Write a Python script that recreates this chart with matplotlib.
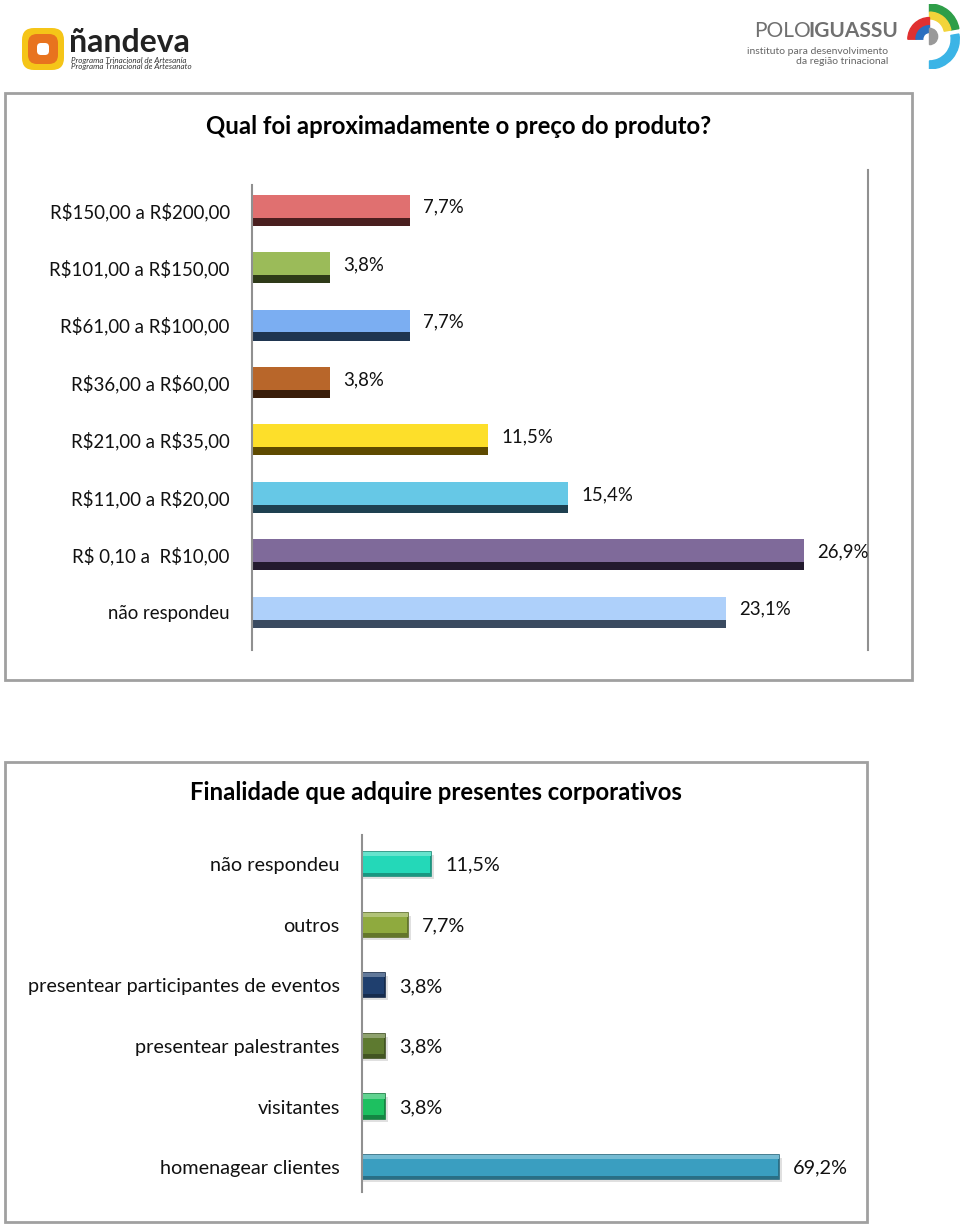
import matplotlib
matplotlib.use("Agg")
import matplotlib.pyplot as plt
from matplotlib.patches import Rectangle, FancyBboxPatch, Wedge
import numpy as np

plt.rcParams['font.family'] = ['Lato', 'DejaVu Sans']
plt.rcParams['text.parse_math'] = False

# ---------------- data ----------------
title1 = "Qual foi aproximadamente o preço do produto?"
cats1 = ["R$150,00 a R$200,00", "R$101,00 a R$150,00", "R$61,00 a R$100,00",
         "R$36,00 a R$60,00", "R$21,00 a R$35,00", "R$11,00 a R$20,00",
         "R$ 0,10 a  R$10,00", "não respondeu"]
vals1 = [7.7, 3.8, 7.7, 3.8, 11.5, 15.4, 26.9, 23.1]
labels1 = ["7,7%", "3,8%", "7,7%", "3,8%", "11,5%", "15,4%", "26,9%", "23,1%"]
light1 = ["#E07070", "#9BBB59", "#7BAEF2", "#B8662A", "#FDDF2A", "#66C8E6", "#7F6A9A", "#AED0FA"]
dark1 = ["#4A1F1F", "#2E3A18", "#1F3550", "#3A1E0A", "#5E4A00", "#1E4050", "#231A2E", "#3A4A60"]

title2 = "Finalidade que adquire presentes corporativos"
cats2 = ["não respondeu", "outros", "presentear participantes de eventos",
         "presentear palestrantes", "visitantes", "homenagear clientes"]
vals2 = [11.5, 7.7, 3.8, 3.8, 3.8, 69.2]
labels2 = ["11,5%", "7,7%", "3,8%", "3,8%", "3,8%", "69,2%"]
colors2 = ["#24D8B8", "#8FAA3E", "#1F3F6E", "#5E7A30", "#1DC060", "#3A9EC0"]

W, H = 960, 1227
FS1 = 13.4
FS2 = 14.3
fig = plt.figure(figsize=(W / 100, H / 100), dpi=100)


def px(x0, y0, x1, y1):
    return [x0 / W, 1 - y1 / H, (x1 - x0) / W, (y1 - y0) / H]


def shade(c, f):
    c = np.array(matplotlib.colors.to_rgb(c))
    if f >= 0:
        c = c + (1 - c) * f
    else:
        c = c * (1 + f)
    return tuple(np.clip(c, 0, 1))


# ---------------- frames ----------------
bg = fig.add_axes([0, 0, 1, 1])
bg.set_xlim(0, W)
bg.set_ylim(H, 0)
bg.axis('off')
bg.add_patch(Rectangle((5, 93), 907, 587, fill=False, ec="#A0A0A0", lw=2))
bg.add_patch(Rectangle((5, 762), 862, 460, fill=False, ec="#A0A0A0", lw=2))

# ---------------- logos ----------------
bg.add_patch(FancyBboxPatch((22, 28), 42, 42, boxstyle="round,pad=0,rounding_size=12",
                            fc="#F5C518", ec="none"))
bg.add_patch(FancyBboxPatch((28, 34), 30, 30, boxstyle="round,pad=0,rounding_size=9",
                            fc="#E8731E", ec="none"))
bg.add_patch(FancyBboxPatch((37, 43), 12, 12, boxstyle="round,pad=0,rounding_size=4",
                            fc="white", ec="none"))
bg.text(69, 43, "ñandeva", fontsize=23, fontweight='bold', color="#222222",
        va='center', ha='left')
bg.text(71, 60, "Programa Trinacional de Artesanía", fontsize=5.8, style='italic',
        color="#333333", va='center', ha='left')
bg.text(71, 67, "Programa Trinacional de Artesanato", fontsize=5.8, style='italic',
        color="#333333", va='center', ha='left')

bg.text(754, 31, "POLO", fontsize=15, color="#707070", va='center', ha='left')
bg.text(808, 31, "IGUASSU", fontsize=15, fontweight='bold', color="#707070", va='center', ha='left')
bg.text(888, 51, "instituto para desenvolvimento", fontsize=7.5, color="#666666",
        va='center', ha='right')
bg.text(888, 62, "da região trinacional", fontsize=7.5, color="#666666",
        va='center', ha='right')
lg = fig.add_axes(px(897, 3, 962, 70))
lg.set_xlim(-1.2, 1.2)
lg.set_ylim(-1.2, 1.2)
lg.set_aspect('equal')
lg.axis('off')
lg.add_patch(Wedge((0, 0.1), 1.1, 10, 90, width=0.3, color="#2E9E48"))
lg.add_patch(Wedge((0, 0.1), 0.8, 10, 90, width=0.25, color="#F2D43A"))
lg.add_patch(Wedge((0, -0.1), 1.1, -90, 10, width=0.3, color="#3BB4E6"))
lg.add_patch(Wedge((0, -0.1), 0.8, 90, 180, width=0.3, color="#E03030"))
lg.add_patch(Wedge((0, -0.1), 0.5, 90, 180, width=0.25, color="#2A6FC0"))
lg.add_patch(Wedge((0, 0), 0.3, -90, 90, color="#999999"))

# ---------------- chart 1 ----------------
fig.text(459 / W, 1 - 126 / H, title1, fontsize=17.2, fontweight='bold',
         ha='center', va='center', color="black")
ax1 = fig.add_axes(px(252, 170, 868, 650))
n1 = len(cats1)
y1 = np.arange(n1)[::-1]
hb = 0.54
ax1.barh(y1, vals1, height=hb, color=dark1, align='center')
ax1.barh(y1 - hb / 2 + 0.14, vals1, height=hb - 0.14, color=light1, align='edge')
for yy, v, t in zip(y1, vals1, labels1):
    ax1.text(v + 0.63, yy + 0.05, t, fontsize=FS1, va='center', ha='left', color="#111111")
ax1.set_xlim(0, 30)
ax1.set_ylim(-0.66, n1 - 1 + 0.70)
ax1.set_yticks(y1)
ax1.set_yticklabels(cats1, fontsize=FS1, color="#111111")
ax1.tick_params(axis='y', length=0, pad=16)
ax1.set_xticks([])
ax1.spines['top'].set_visible(False)
ax1.spines['bottom'].set_visible(False)
ax1.spines['left'].set_color("#909090")
ax1.spines['left'].set_bounds(-0.66, n1 - 1 + 0.44)
ax1.spines['right'].set_color("#909090")
ax1.spines['left'].set_linewidth(1.5)
ax1.spines['right'].set_linewidth(1.5)
ax1.patch.set_alpha(0)

# ---------------- chart 2 ----------------
fig.text(436 / W, 1 - 793 / H, title2, fontsize=17.2, fontweight='bold',
         ha='center', va='center', color="black")
ax2 = fig.add_axes(px(362, 835, 844, 1192))
n2 = len(cats2)
y2 = np.arange(n2)[::-1]
h2 = 0.40
# shadow
ax2.barh(y2 - 0.05, [v + 0.5 for v in vals2], height=h2, color="#BBBBBB", alpha=0.45, align='center')
ax2.barh(y2, vals2, height=h2, color=colors2, align='center',
         edgecolor=[shade(c, -0.35) for c in colors2], linewidth=1.2)
ax2.barh(y2 + h2 / 2 - 0.07, vals2, height=0.07, align='edge',
         color=[shade(c, 0.3) for c in colors2])
ax2.barh(y2 - h2 / 2, vals2, height=0.06, align='edge',
         color=[shade(c, -0.3) for c in colors2])
for yy, v, t in zip(y2, vals2, labels2):
    ax2.text(v + 2.3, yy - 0.02, t, fontsize=FS2, va='center', ha='left', color="#111111")
ax2.set_xlim(0, 80)
ax2.set_ylim(-0.41, n2 - 1 + 0.48)
ax2.set_yticks(y2)
ax2.set_yticklabels(cats2, fontsize=FS2, color="#111111")
ax2.tick_params(axis='y', length=0, pad=16)
ax2.set_xticks([])
for s in ['top', 'bottom', 'right']:
    ax2.spines[s].set_visible(False)
ax2.spines['left'].set_color("#909090")
ax2.spines['left'].set_linewidth(1.5)
ax2.patch.set_alpha(0)

fig.savefig("out.png", dpi=100)
